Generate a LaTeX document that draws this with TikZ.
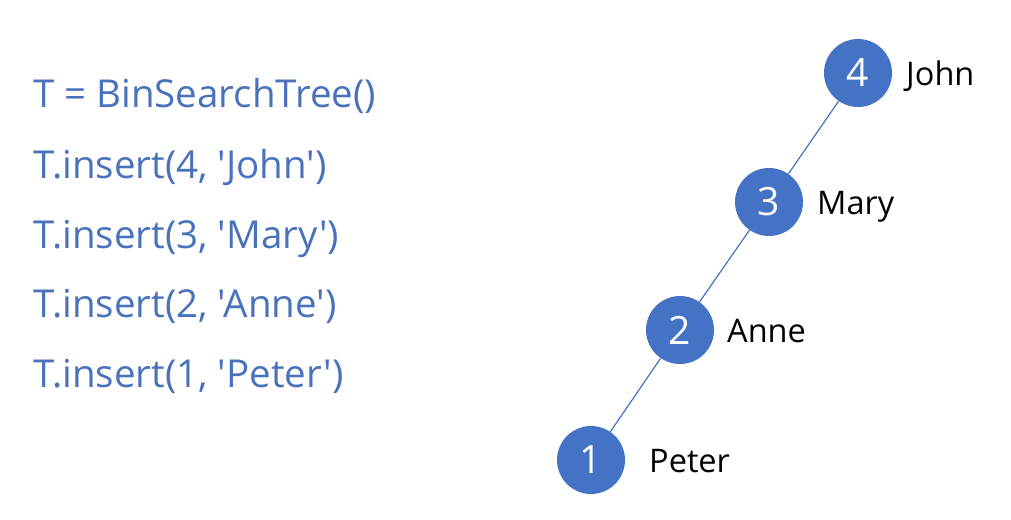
\documentclass[tikz,border=0pt]{standalone}
\usepackage{fontspec}
\setmainfont{Open Sans}
\newfontfamily\codefont[Ligatures=TeXOff]{Open Sans}
\definecolor{nodeblue}{HTML}{4472C4}
\definecolor{codeblue}{HTML}{4A72BC}
\begin{document}
\begin{tikzpicture}[x=1pt,y=-1pt,
  tnode/.style={circle,fill=nodeblue,draw=none,minimum size=68pt,inner sep=0pt,text=white,font=\fontsize{39}{40}\selectfont},
  tlabel/.style={anchor=base west,inner sep=0pt,font=\fontsize{32.5}{34}\selectfont,text=black},
  code/.style={anchor=base west,inner sep=0pt,font=\codefont\fontsize{38.5}{40}\selectfont,text=codeblue},
  edge/.style={draw=nodeblue,line width=1.2pt}]
\useasboundingbox (0,0) rectangle (1011,519);
\node[code] (c1) at (33,107) {T = BinSearchTree()};
\node[code] (c2) at (33,178) {T.insert(4, 'John')};
\node[code] (c3) at (33,248) {T.insert(3, 'Mary')};
\node[code] (c4) at (33,317) {T.insert(2, 'Anne')};
\node[code] (c5) at (33,387) {T.insert(1, 'Peter')};
\node[tnode] (n4) at (858,73) {4};
\node[tnode] (n3) at (769,202) {3};
\node[tnode] (n2) at (680,330) {2};
\node[tnode] (n1) at (591,460) {1};
\node[tlabel] (l4) at (906,85) {John};
\node[tlabel] (l3) at (817,214) {Mary};
\node[tlabel] (l2) at (727,342) {Anne};
\node[tlabel] (l1) at (649,472) {Peter};
\draw[edge] (n4) -- (n3);
\draw[edge] (n3) -- (n2);
\draw[edge] (n2) -- (n1);
\end{tikzpicture}
\end{document}
